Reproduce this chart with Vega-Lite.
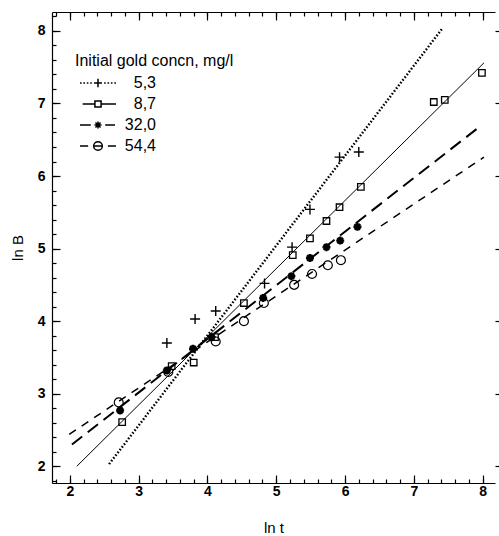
{
  "$schema": "https://vega.github.io/schema/vega-lite/v6.json",
  "autosize": {"type": "none"},
  "width": 443,
  "height": 471,
  "padding": {"left": 52, "top": 12, "right": 4, "bottom": 53},
  "config": {
    "view": {"stroke": null},
    "font": "Liberation Sans",
    "axis": {
      "grid": false,
      "domainColor": "black",
      "tickColor": "black",
      "labelColor": "black",
      "titleColor": "black",
      "labelFont": "Liberation Sans",
      "labelFontSize": 14,
      "labelFontWeight": "bold",
      "titleFont": "Liberation Sans",
      "titleFontSize": 15,
      "titleFontWeight": "normal",
      "domainWidth": 1.2,
      "tickWidth": 1.2
    }
  },
  "datasets": {
    "lines": [
      {"series": "5,3", "lnt": 2.57, "lnB": 2.03},
      {"series": "5,3", "lnt": 7.42, "lnB": 8.04},
      {"series": "8,7", "lnt": 2.10, "lnB": 2.00},
      {"series": "8,7", "lnt": 8.02, "lnB": 7.56},
      {"series": "32,0", "lnt": 2.03, "lnB": 2.30},
      {"series": "32,0", "lnt": 7.97, "lnB": 6.69},
      {"series": "54,4", "lnt": 1.99, "lnB": 2.44},
      {"series": "54,4", "lnt": 8.02, "lnB": 6.26}
    ],
    "points": [
      {"series": "5,3", "lnt": 3.41, "lnB": 3.70},
      {"series": "5,3", "lnt": 3.82, "lnB": 4.03},
      {"series": "5,3", "lnt": 4.12, "lnB": 4.14},
      {"series": "5,3", "lnt": 4.83, "lnB": 4.52},
      {"series": "5,3", "lnt": 5.23, "lnB": 5.02},
      {"series": "5,3", "lnt": 5.49, "lnB": 5.54},
      {"series": "5,3", "lnt": 5.92, "lnB": 6.26},
      {"series": "5,3", "lnt": 6.20, "lnB": 6.33},
      {"series": "8,7", "lnt": 2.76, "lnB": 2.61},
      {"series": "8,7", "lnt": 3.48, "lnB": 3.38},
      {"series": "8,7", "lnt": 3.80, "lnB": 3.43},
      {"series": "8,7", "lnt": 4.11, "lnB": 3.78},
      {"series": "8,7", "lnt": 4.53, "lnB": 4.25},
      {"series": "8,7", "lnt": 5.24, "lnB": 4.91},
      {"series": "8,7", "lnt": 5.49, "lnB": 5.14},
      {"series": "8,7", "lnt": 5.73, "lnB": 5.38},
      {"series": "8,7", "lnt": 5.92, "lnB": 5.57},
      {"series": "8,7", "lnt": 6.23, "lnB": 5.85},
      {"series": "8,7", "lnt": 7.29, "lnB": 7.02},
      {"series": "8,7", "lnt": 7.45, "lnB": 7.05},
      {"series": "8,7", "lnt": 7.99, "lnB": 7.42},
      {"series": "32,0", "lnt": 2.73, "lnB": 2.77},
      {"series": "32,0", "lnt": 3.41, "lnB": 3.32},
      {"series": "32,0", "lnt": 3.79, "lnB": 3.62},
      {"series": "32,0", "lnt": 4.06, "lnB": 3.78},
      {"series": "32,0", "lnt": 4.81, "lnB": 4.32},
      {"series": "32,0", "lnt": 5.22, "lnB": 4.62},
      {"series": "32,0", "lnt": 5.49, "lnB": 4.87},
      {"series": "32,0", "lnt": 5.73, "lnB": 5.02},
      {"series": "32,0", "lnt": 5.93, "lnB": 5.11},
      {"series": "32,0", "lnt": 6.18, "lnB": 5.30},
      {"series": "54,4", "lnt": 2.71, "lnB": 2.88},
      {"series": "54,4", "lnt": 3.43, "lnB": 3.30},
      {"series": "54,4", "lnt": 4.12, "lnB": 3.72},
      {"series": "54,4", "lnt": 4.53, "lnB": 4.00},
      {"series": "54,4", "lnt": 4.82, "lnB": 4.25},
      {"series": "54,4", "lnt": 5.26, "lnB": 4.50},
      {"series": "54,4", "lnt": 5.52, "lnB": 4.65},
      {"series": "54,4", "lnt": 5.75, "lnB": 4.77},
      {"series": "54,4", "lnt": 5.94, "lnB": 4.84}
    ]
  },
  "resolve": {"axis": {"x": "independent", "y": "independent"}, "scale": {"shape": "independent"}},
  "layer": [
    {
      "data": {"name": "lines"},
      "transform": [{"filter": "datum.series === '5,3'"}],
      "mark": {"type": "line", "color": "black", "strokeWidth": 2.4, "strokeDash": [1.6, 1.9], "clip": true},
      "encoding": {
        "x": {"field": "lnt", "type": "quantitative", "scale": {"domain": [1.74, 8.18], "nice": false, "zero": false},
          "axis": {"orient": "bottom", "values": [2, 3, 4, 5, 6, 7, 8], "tickSize": -8, "labelPadding": 9, "title": "ln t", "titlePadding": 22}},
        "y": {"field": "lnB", "type": "quantitative", "scale": {"domain": [1.77, 8.26], "nice": false, "zero": false},
          "axis": {"orient": "left", "values": [2, 3, 4, 5, 6, 7, 8], "tickSize": -8, "labelPadding": 15, "title": "ln B", "titlePadding": 12}}
      }
    },
    {
      "data": {"name": "lines"},
      "transform": [{"filter": "datum.series === '8,7'"}],
      "mark": {"type": "line", "color": "black", "strokeWidth": 1, "clip": true},
      "encoding": {
        "x": {"field": "lnt", "type": "quantitative",
          "axis": {"orient": "bottom", "values": [1.8, 2.0, 2.2, 2.4, 2.6, 2.8, 3.0, 3.2, 3.4, 3.6, 3.8, 4.0, 4.2, 4.4, 4.6, 4.8, 5.0, 5.2, 5.4, 5.6, 5.8, 6.0, 6.2, 6.4, 6.6, 6.8, 7.0, 7.2, 7.4, 7.6, 7.8, 8.0], "tickSize": -4, "labels": false, "domain": false, "title": null}},
        "y": {"field": "lnB", "type": "quantitative",
          "axis": {"orient": "left", "values": [1.8, 2.0, 2.2, 2.4, 2.6, 2.8, 3.0, 3.2, 3.4, 3.6, 3.8, 4.0, 4.2, 4.4, 4.6, 4.8, 5.0, 5.2, 5.4, 5.6, 5.8, 6.0, 6.2, 6.4, 6.6, 6.8, 7.0, 7.2, 7.4, 7.6, 7.8, 8.0, 8.2], "tickSize": -4, "labels": false, "domain": false, "title": null}}
      }
    },
    {
      "data": {"name": "lines"},
      "transform": [{"filter": "datum.series === '32,0'"}],
      "mark": {"type": "line", "color": "black", "strokeWidth": 2, "strokeDash": [13, 7], "clip": true},
      "encoding": {
        "x": {"field": "lnt", "type": "quantitative",
          "axis": {"orient": "top", "values": [2, 3, 4, 5, 6, 7, 8], "tickSize": -8, "labels": false, "domain": true, "title": null}},
        "y": {"field": "lnB", "type": "quantitative",
          "axis": {"orient": "right", "values": [2, 3, 4, 5, 6, 7, 8], "tickSize": 4, "labels": false, "domain": false, "title": null}}
      }
    },
    {
      "data": {"name": "lines"},
      "transform": [{"filter": "datum.series === '54,4'"}],
      "mark": {"type": "line", "color": "black", "strokeWidth": 1.5, "strokeDash": [8, 7], "clip": true},
      "encoding": {
        "x": {"field": "lnt", "type": "quantitative",
          "axis": {"orient": "top", "values": [1.8, 2.0, 2.2, 2.4, 2.6, 2.8, 3.0, 3.2, 3.4, 3.6, 3.8, 4.0, 4.2, 4.4, 4.6, 4.8, 5.0, 5.2, 5.4, 5.6, 5.8, 6.0, 6.2, 6.4, 6.6, 6.8, 7.0, 7.2, 7.4, 7.6, 7.8, 8.0], "tickSize": -4, "labels": false, "domain": false, "title": null}},
        "y": {"field": "lnB", "type": "quantitative", "axis": null}
      }
    },
    {
      "data": {"name": "points"},
      "mark": {"type": "point", "filled": false, "opacity": 1, "color": "black"},
      "encoding": {
        "x": {"field": "lnt", "type": "quantitative", "axis": null},
        "y": {"field": "lnB", "type": "quantitative", "axis": null},
        "shape": {"field": "series", "type": "nominal", "legend": null,
          "scale": {"domain": ["5,3", "8,7", "32,0", "54,4"], "range": ["M-1,0H1M0,-1V1", "square", "M-1,0H1M0,-1V1M-0.7,-0.7L0.7,0.7M-0.7,0.7L0.7,-0.7", "circle"]}},
        "size": {"field": "series", "type": "nominal", "legend": null,
          "scale": {"type": "ordinal", "domain": ["5,3", "8,7", "32,0", "54,4"], "range": [100, 42, 64, 80]}},
        "strokeWidth": {"field": "series", "type": "nominal", "legend": null,
          "scale": {"type": "ordinal", "domain": ["5,3", "8,7", "32,0", "54,4"], "range": [1.4, 1.3, 2.4, 1.2]}}
      }
    },
    {
      "data": {"name": "points"},
      "mark": {"type": "point", "filled": false, "opacity": 0, "color": "black"},
      "encoding": {
        "x": {"field": "lnt", "type": "quantitative", "axis": null},
        "y": {"field": "lnB", "type": "quantitative", "axis": null},
        "shape": {"field": "series", "type": "nominal",
          "scale": {"domain": ["5,3", "8,7", "32,0", "54,4"], "range": [
            "M-2.57,0h0.23M-2.09,0h0.23M-1.6,0h0.23M-1.11,0h0.23M-0.57,0H0.57M0,-0.62V0.62M0.87,0h0.23M1.36,0h0.23M1.84,0h0.23M2.33,0h0.23",
            "M-2.19,0H-0.44M0.44,0H2.57M-0.44,-0.44H0.44V0.44H-0.44Z",
            "M-2.57,0H-1.03M1.03,0H2.43M-0.51,0H0.51M0,-0.51V0.51M-0.36,-0.36L0.36,0.36M-0.36,0.36L0.36,-0.36",
            "M-2.57,0H-1.41M1.41,0H2.57M-0.62,0H0.62M-0.62,0A0.62,0.62 0 1,1 0.62,0A0.62,0.62 0 1,1 -0.62,0"
          ]},
          "legend": {
            "title": "Initial gold concn, mg/l",
            "orient": "none",
            "legendX": 23,
            "legendY": 41,
            "padding": 0,
            "titleFont": "Liberation Sans",
            "titleFontSize": 16,
            "titleFontWeight": "normal",
            "titleColor": "black",
            "titlePadding": 6,
            "labelFont": "Liberation Sans",
            "labelFontSize": 16,
            "labelColor": "black",
            "labelAlign": "right",
            "labelOffset": 50,
            "rowPadding": 5,
            "symbolSize": 196,
            "symbolOffset": 15,
            "symbolOpacity": 1,
            "symbolFillColor": "transparent",
            "symbolStrokeColor": "black",
            "symbolStrokeWidth": 1.5
          }
        }
      }
    }
  ]
}
